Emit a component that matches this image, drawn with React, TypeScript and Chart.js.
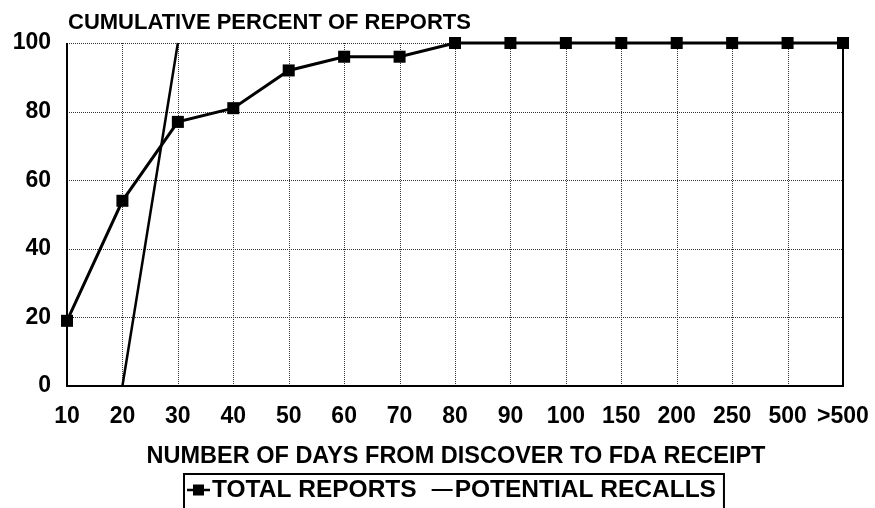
import React, { useEffect, useRef } from "react";
import { Chart, registerables } from "chart.js";

Chart.register(...registerables);

const categories = ["10", "20", "30", "40", "50", "60", "70", "80", "90", "100", "150", "200", "250", "500", ">500"];
const totalReports = [19, 54, 77, 81, 92, 96, 96, 100, 100, 100, 100, 100, 100, 100, 100];
const potentialRecalls = [null, 0, 100, null, null, null, null, null, null, null, null, null, null, null, null];
const yTicks = [0, 20, 40, 60, 80, 100];

const chartTitle = "CUMULATIVE PERCENT OF REPORTS";
const xTitle = "NUMBER OF DAYS FROM DISCOVER TO FDA RECEIPT";
const legendLabels = ["TOTAL REPORTS", "POTENTIAL RECALLS"];

const FONT_FAMILY = "'Liberation Sans', Arial, Helvetica, sans-serif";

const gridPlugin = {
  id: "dottedGrid",
  beforeDatasetsDraw(chart: any) {
    const { ctx, chartArea, scales } = chart;
    const xs = scales.x;
    const ys = scales.y;
    ctx.save();
    ctx.strokeStyle = "#333";
    ctx.lineWidth = 1;
    ctx.setLineDash([1, 1]);
    for (let i = 1; i < xs.ticks.length - 1; i++) {
      const px = Math.round(xs.getPixelForTick(i)) + 0.5;
      ctx.beginPath();
      ctx.moveTo(px, chartArea.top);
      ctx.lineTo(px, chartArea.bottom);
      ctx.stroke();
    }
    for (let i = 0; i < ys.ticks.length; i++) {
      if (ys.ticks[i].value === 0) continue;
      const py = Math.round(ys.getPixelForValue(ys.ticks[i].value)) + 0.5;
      ctx.beginPath();
      ctx.moveTo(chartArea.left, py);
      ctx.lineTo(chartArea.right, py);
      ctx.stroke();
    }
    ctx.setLineDash([]);
    ctx.strokeStyle = "#000";
    ctx.lineWidth = 2;
    ctx.beginPath();
    ctx.moveTo(chartArea.left, chartArea.top);
    ctx.lineTo(chartArea.left, chartArea.bottom);
    ctx.lineTo(chartArea.right, chartArea.bottom);
    ctx.lineTo(chartArea.right, chartArea.top);
    ctx.stroke();
    ctx.restore();
  },
};

const decorPlugin = {
  id: "decor",
  afterDraw(chart: any) {
    const { ctx, chartArea } = chart;
    ctx.save();
    ctx.fillStyle = "#000";
    ctx.strokeStyle = "#000";
    ctx.textBaseline = "middle";
    ctx.textAlign = "left";
    ctx.font = `bold 22px ${FONT_FAMILY}`;
    ctx.fillText(chartTitle, chartArea.left + 1, 23);

    ctx.font = `bold 23.5px ${FONT_FAMILY}`;
    ctx.textAlign = "center";
    ctx.fillText(xTitle, 456, 457);

    // legend
    ctx.font = `bold 24.5px ${FONT_FAMILY}`;
    ctx.textAlign = "left";
    const ly = 490;
    const L = 184;
    const w1 = ctx.measureText(legendLabels[0]).width;
    const w2 = ctx.measureText(legendLabels[1]).width;
    ctx.lineWidth = 2.5;
    ctx.beginPath();
    ctx.moveTo(L + 3, ly);
    ctx.lineTo(L + 26, ly);
    ctx.stroke();
    ctx.fillRect(L + 9, ly - 5.5, 11, 11);
    const t1 = L + 28;
    ctx.fillText(legendLabels[0], t1, ly);
    const d1 = t1 + w1 + 15;
    ctx.lineWidth = 2;
    ctx.beginPath();
    ctx.moveTo(d1, ly);
    ctx.lineTo(d1 + 21, ly);
    ctx.stroke();
    const t2 = d1 + 23;
    ctx.fillText(legendLabels[1], t2, ly);
    const R = t2 + w2 + 8;
    ctx.lineWidth = 2;
    ctx.strokeRect(L, 474, R - L, 60);
    ctx.restore();
  },
};

export default function App() {
  const canvasRef = useRef<HTMLCanvasElement | null>(null);

  useEffect(() => {
    const canvas = canvasRef.current;
    if (!canvas) return;
    const chart = new Chart(canvas, {
      type: "line",
      data: {
        labels: categories,
        datasets: [
          {
            label: legendLabels[0],
            data: totalReports,
            borderColor: "#000",
            backgroundColor: "#000",
            borderWidth: 3,
            pointStyle: "rect",
            pointRadius: 8.5,
            pointBorderWidth: 0,
            pointBackgroundColor: "#000",
            tension: 0,
            clip: false as any,
          },
          {
            label: legendLabels[1],
            data: potentialRecalls as any,
            borderColor: "#000",
            borderWidth: 2.5,
            pointRadius: 0,
            tension: 0,
            spanGaps: false,
            clip: false as any,
          },
        ],
      },
      options: {
        responsive: false,
        animation: false,
        layout: { padding: { top: 43, right: 32, left: 0, bottom: 0 } },
        plugins: {
          legend: { display: false },
          tooltip: { enabled: false },
          title: { display: false },
        },
        scales: {
          x: {
            type: "category",
            offset: false,
            grid: { display: false, drawTicks: false },
            border: { display: false },
            ticks: {
              color: "#000",
              padding: 17,
              autoSkip: false,
              maxRotation: 0,
              font: { family: FONT_FAMILY, size: 23, weight: "bold" },
            },
            afterFit: (s: any) => {
              s.height = 122;
              s.paddingLeft = 0;
              s.paddingRight = 0;
            },
          },
          y: {
            min: 0,
            max: 100,
            afterBuildTicks: (s: any) => {
              s.ticks = yTicks.map((v) => ({ value: v }));
            },
            grid: { display: false, drawTicks: false },
            border: { display: false },
            ticks: {
              color: "#000",
              padding: 16,
              font: { family: FONT_FAMILY, size: 23, weight: "bold" },
            },
            afterFit: (s: any) => {
              s.width = 67;
              s.paddingTop = 0;
              s.paddingBottom = 0;
            },
          },
        },
      },
      plugins: [gridPlugin, decorPlugin],
    } as any);
    return () => chart.destroy();
  }, []);

  return (
    <div style={{ position: "fixed", left: 0, top: 0, width: 875, height: 508, background: "#fff" }}>
      <canvas ref={canvasRef} width={875} height={508} style={{ width: 875, height: 508, display: "block" }} />
    </div>
  );
}
